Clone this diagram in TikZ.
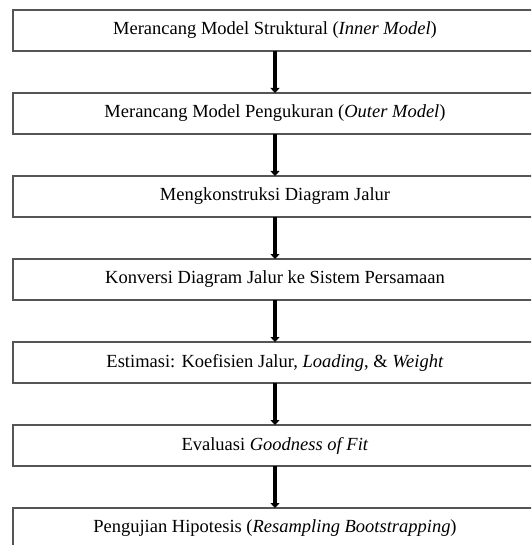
\documentclass[tikz,border=0pt]{standalone}
\usepackage{fontspec}
\setmainfont{Liberation Serif}
\usetikzlibrary{arrows.meta, positioning}
\definecolor{grisborde}{HTML}{555555}
\colorlet{colBorde}{grisborde}
\colorlet{colFlecha}{black}
\tikzset{
  cajaPaso/.style={
    draw=colBorde, line width=1.6pt,
    minimum height=41pt, minimum width=524pt,
    inner sep=0pt, outer sep=0pt, align=center,
    font=\fontsize{18.5}{21}\selectfont
  },
  flecha/.style={-{Triangle[length=5pt, width=9pt]}, line width=3.6pt, colFlecha},
}
\begin{document}
\begin{tikzpicture}[x=1pt, y=1pt, node distance=42pt]
    \clip (0,0) rectangle (531,-545);
    % Pasos
    \node[cajaPaso] (p1) at (275,-30.5) {Merancang Model Struktural (\textit{Inner Model})};
    \node[cajaPaso, below=of p1] (p2) {Merancang Model Pengukuran (\textit{Outer Model})};
    \node[cajaPaso, below=of p2] (p3) {Mengkonstruksi Diagram Jalur};
    \node[cajaPaso, below=of p3] (p4) {Konversi Diagram Jalur ke Sistem Persamaan};
    \node[cajaPaso, below=of p4] (p5) {Estimasi: Koefisien Jalur, \textit{Loading}, \& \textit{Weight}};
    \node[cajaPaso, below=of p5] (p6) {Evaluasi \textit{Goodness of Fit}};
    \node[cajaPaso, below=of p6] (p7) {Pengujian Hipotesis (\textit{Resampling Bootstrapping})};

    % Flechas
    \foreach \a/\b in {p1/p2, p2/p3, p3/p4, p4/p5, p5/p6, p6/p7}
      \draw[flecha] (\a) -- (\b);
\end{tikzpicture}
\end{document}
